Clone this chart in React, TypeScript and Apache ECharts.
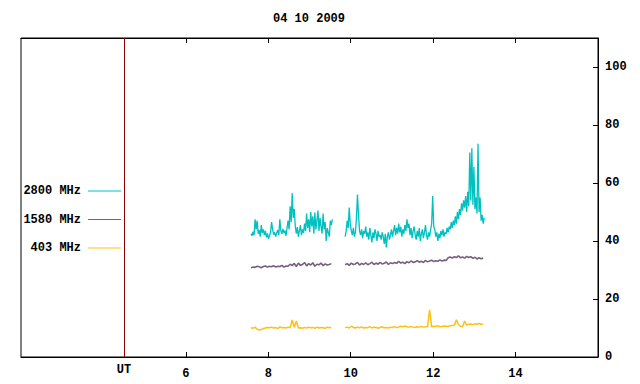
import React, { useEffect, useRef } from "react";
import * as echarts from "echarts";

const TITLE = "04 10 2009";
const X_TICKS = [6, 8, 10, 12, 14];
const Y_TICKS = [0, 20, 40, 60, 80, 100];
const UT_MARK = 4.5;
const SEG_STARTS = [7.58, 9.864];
const STEP_2800 = 0.025;
const STEP_LOW = 0.05;
const LEGEND_NAMES = ["2800 MHz", "1580 MHz", "403 MHz"];
const COLORS = ["#00c0c0", "#7a5e80", "#ffc010"];

const MHZ2800_A = [
  42.5, 41.8, 43.2, 42.0, 47.5, 44.0, 47.0, 42.5, 43.8, 41.5,
  45.5, 42.8, 44.0, 42.0, 43.5, 41.2, 42.6, 40.8, 41.8, 43.0,
  46.5, 44.0, 42.2, 43.0, 41.5, 42.8, 43.8, 42.0, 47.5, 43.5,
  42.5, 44.2, 42.8, 43.6, 41.8, 44.5, 47.0, 44.0, 52.0, 46.5,
  56.5, 48.0, 51.0, 45.0, 42.5, 44.8, 41.5, 43.5, 45.5, 42.0,
  44.0, 42.8, 46.0, 43.5, 49.5, 44.5, 47.5, 43.0, 50.0, 45.0,
  48.5, 42.5, 49.8, 44.0, 47.0, 50.5, 43.5, 48.0, 45.0, 42.5,
  49.5, 44.0, 46.5, 40.0, 44.5, 43.0, 41.5, 47.0, 45.5, 47.5,
];
const MHZ2800_B = [
  41.5, 43.5, 47.0, 44.5, 51.5, 46.0, 43.5, 42.0, 44.5, 41.5,
  43.0, 48.0, 56.0, 49.0, 43.5, 42.0, 44.0, 41.0, 43.5, 42.5,
  45.0, 41.5, 43.0, 40.5, 44.5, 42.0, 39.5, 43.0, 41.0, 44.0,
  42.5, 40.0, 43.5, 41.5, 42.0, 40.5, 43.0, 41.5, 39.0, 42.5,
  37.8, 41.5, 43.0, 40.5, 42.0, 44.0, 41.5, 43.5, 45.5, 42.0,
  44.5, 42.5, 46.0, 43.0, 45.0, 41.5, 44.0, 42.5, 45.5, 43.5,
  47.5, 44.5, 46.0, 42.0, 44.5, 41.0, 43.5, 45.0, 42.0, 40.5,
  43.5, 41.5, 44.5, 40.0, 42.5, 44.0, 41.0, 43.0, 45.5, 42.0,
  40.5, 43.0, 41.5, 44.0, 46.0, 55.5, 45.0, 44.0, 41.5, 43.0,
  40.0, 42.5, 41.0, 43.5, 42.0, 44.0, 41.5, 43.0, 42.5, 44.5,
  43.0, 45.0, 44.0, 46.5, 44.5, 47.0, 45.5, 48.5, 46.0, 50.0,
  47.5, 51.0, 49.0, 53.0, 50.5, 54.0, 51.5, 55.5, 50.0, 57.0,
  52.0, 70.5, 54.0, 72.0, 52.5, 65.5, 51.0, 55.0, 49.5, 73.5,
  50.0, 55.0, 47.0, 49.0, 46.0, 48.0,
];
const MHZ1580_A = [
  30.8, 31.0, 30.9, 31.3, 31.1, 30.8, 31.2, 31.4, 31.0, 31.3,
  31.1, 31.5, 31.0, 31.3, 31.2, 31.6, 31.0, 31.4, 31.3, 32.0,
  31.5, 32.3, 31.2, 32.4, 31.6, 31.9, 32.6, 31.4, 32.2, 31.7,
  32.5, 31.3, 32.0, 31.8, 32.4, 31.5, 32.1, 31.7, 31.9, 32.2,
];
const MHZ1580_B = [
  31.8, 32.2, 31.6, 32.4, 31.9, 32.1, 32.6, 31.7, 32.3, 31.9,
  32.5, 31.8, 32.2, 32.7, 31.9, 32.4, 32.0, 32.6, 32.1, 32.3,
  32.8, 31.9, 32.5, 32.2, 32.6, 32.3, 33.0, 32.4, 32.7, 32.2,
  32.9, 32.5, 33.1, 32.6, 32.8, 33.2, 32.7, 33.0, 32.6, 33.3,
  32.8, 33.1, 33.4, 32.9, 33.2, 33.0, 33.5, 33.1, 33.4, 33.3,
  34.2, 34.5, 34.1, 34.6, 34.3, 34.9, 34.2, 34.5, 34.1, 34.7,
  34.3, 34.6, 34.0, 34.4, 33.8, 34.2, 33.9, 34.1,
];
const MHZ403_A = [
  10.1, 9.9, 10.3, 9.6, 9.3, 9.5, 9.8, 10.0, 10.2, 10.1,
  10.3, 10.0, 10.2, 9.8, 10.4, 10.1, 10.2, 10.0, 10.3, 10.1,
  12.8, 10.2, 12.4, 10.0, 10.1, 9.9, 10.2, 10.0, 10.3, 10.1,
  10.2, 9.9, 10.3, 10.0, 10.2, 10.1, 9.9, 10.3, 10.1, 10.2,
];
const MHZ403_B = [
  10.1, 10.3, 10.0, 10.6, 10.2, 10.0, 10.3, 10.1, 10.4, 10.0,
  10.2, 10.1, 10.5, 10.0, 10.3, 10.2, 9.9, 10.2, 10.4, 10.1,
  10.2, 10.0, 10.3, 10.2, 10.5, 10.1, 10.3, 10.6, 10.4, 10.7,
  10.4, 10.3, 10.5, 10.3, 10.2, 10.4, 10.3, 10.5, 10.3, 10.4,
  10.4, 16.3, 10.4, 10.6, 10.5, 10.8, 10.4, 10.5, 10.7, 10.6,
  10.5, 10.8, 10.9, 11.0, 12.8, 11.2, 10.6, 10.4, 12.4, 11.0,
  11.3, 11.4, 11.1, 11.5, 11.3, 11.6, 11.2, 11.4,
];

const FONT = "Liberation Mono";
const FONT_SIZE = 12;

function toPairs(values: number[], start: number, step: number) {
  return values.map((v, i) => [start + i * step, v]);
}

export default function App() {
  const ref = useRef<HTMLDivElement>(null);
  useEffect(() => {
    if (!ref.current) return;
    const chart = echarts.init(ref.current, null, { renderer: "svg" });
    const groups = [
      { segs: [MHZ2800_A, MHZ2800_B], step: STEP_2800, color: COLORS[0], width: 1.3 },
      { segs: [MHZ1580_A, MHZ1580_B], step: STEP_LOW, color: COLORS[1], width: 1.6 },
      { segs: [MHZ403_A, MHZ403_B], step: STEP_LOW, color: COLORS[2], width: 1.5 },
    ];
    const series: any[] = [];
    groups.forEach((g, gi) => {
      g.segs.forEach((seg, si) => {
        series.push({
          type: "line",
          name: LEGEND_NAMES[gi],
          xAxisIndex: 0,
          yAxisIndex: 0,
          data: toPairs(seg, SEG_STARTS[si], g.step),
          showSymbol: false,
          symbol: "none",
          silent: true,
          lineStyle: { width: g.width, color: g.color },
          itemStyle: { color: g.color },
        });
      });
    });
    series[0].markLine = {
      silent: true,
      symbol: "none",
      lineStyle: { color: "#8b0000", width: 1, type: "solid" },
      label: {
        show: true,
        position: "start",
        formatter: "UT",
        distance: 7,
        color: "#000",
        fontFamily: FONT,
        fontWeight: "bold",
        fontSize: FONT_SIZE,
      },
      data: [{ xAxis: UT_MARK }],
    };

    const legendGraphics: any[] = [];
    LEGEND_NAMES.forEach((name, i) => {
      const y = 191 + i * 28.5;
      legendGraphics.push({
        type: "text",
        x: 81,
        y,
        style: {
          text: name,
          fill: "#000",
          font: `bold ${FONT_SIZE}px '${FONT}'`,
          textAlign: "right",
          textVerticalAlign: "middle",
        },
      });
      legendGraphics.push({
        type: "line",
        shape: { x1: 88, y1: y, x2: 121, y2: y },
        style: { stroke: COLORS[i], lineWidth: 1 },
      });
    });

    const labelStyle = {
      color: "#000",
      fontFamily: FONT,
      fontWeight: "bold",
      fontSize: FONT_SIZE,
    };

    chart.setOption({
      animation: false,
      backgroundColor: "#fff",
      grid: {
        left: 21,
        right: 42,
        top: 38,
        bottom: 27,
        show: true,
        borderColor: "#000",
        borderWidth: 1,
        containLabel: false,
      },
      xAxis: [
        {
          type: "value",
          min: 2,
          max: 16,
          position: "bottom",
          axisLine: { show: true, lineStyle: { color: "#000", width: 1 } },
          axisTick: {
            show: true,
            inside: true,
            length: 5,
            customValues: X_TICKS,
            lineStyle: { color: "#000" },
          },
          axisLabel: { show: true, customValues: X_TICKS, margin: 11, ...labelStyle },
          splitLine: { show: false },
        },
        {
          type: "value",
          min: 2,
          max: 16,
          position: "top",
          axisLine: { show: true, lineStyle: { color: "#000", width: 1 } },
          axisTick: {
            show: true,
            inside: true,
            length: 5,
            customValues: X_TICKS,
            lineStyle: { color: "#000" },
          },
          axisLabel: { show: false },
          splitLine: { show: false },
        },
      ],
      yAxis: [
        {
          type: "value",
          min: 0,
          max: 110,
          position: "right",
          axisLine: { show: true, lineStyle: { color: "#000", width: 1 } },
          axisTick: {
            show: true,
            inside: true,
            length: 5,
            customValues: Y_TICKS,
            lineStyle: { color: "#000" },
          },
          axisLabel: { show: true, customValues: Y_TICKS, margin: 7, ...labelStyle },
          splitLine: { show: false },
        },
      ],
      graphic: [
        {
          type: "text",
          x: 309,
          y: 19,
          style: {
            text: TITLE,
            fill: "#000",
            font: `bold ${FONT_SIZE}px '${FONT}'`,
            textAlign: "center",
            textVerticalAlign: "middle",
          },
        },
        ...legendGraphics,
      ],
      series,
    });
    return () => chart.dispose();
  }, []);
  return (
    <div
      ref={ref}
      style={{ position: "fixed", left: 0, top: 0, width: 640, height: 384, background: "#fff" }}
    />
  );
}
